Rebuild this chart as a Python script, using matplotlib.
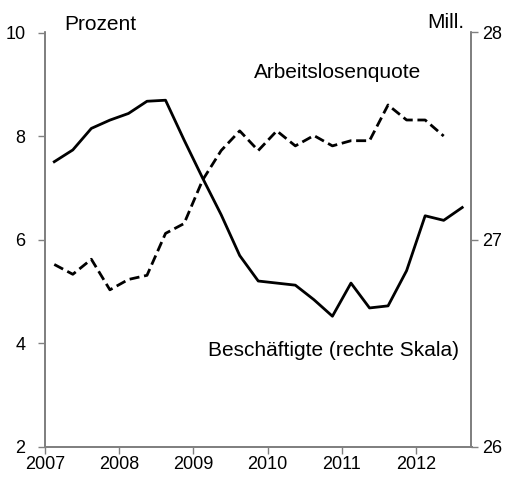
import numpy as np
import matplotlib
matplotlib.use("Agg")
import matplotlib.pyplot as plt

plt.rcParams['font.family'] = ['Liberation Sans', 'DejaVu Sans']

# Quartalswerte (Quartalsmitte), 2007Q1 ...
quartale_alq = 2007.125 + np.arange(22) / 4
quartale_besch = 2007.125 + np.arange(23) / 4

arbeitslosenquote = [5.52, 5.33, 5.62, 5.03, 5.23, 5.31, 6.12, 6.31, 7.15, 7.72,
                     8.10, 7.72, 8.10, 7.81, 8.01, 7.81, 7.91, 7.91, 8.60, 8.31,
                     8.31, 8.00]
beschaeftigte = [27.376, 27.433, 27.537, 27.577, 27.609, 27.668, 27.673, 27.481,
                 27.297, 27.120, 26.923, 26.800, 26.790, 26.780, 26.710, 26.630,
                 26.790, 26.670, 26.680, 26.850, 27.115, 27.093, 27.155]

jahre = [2007, 2008, 2009, 2010, 2011, 2012]

W, H = 510, 478
fig = plt.figure(figsize=(W / 100, H / 100), dpi=100)
ax = fig.add_axes([45 / W, 1 - 446.7 / H, (471.5 - 45) / W, (446.7 - 32.5) / H])
ax2 = ax.twinx()

grau = '#808080'

ax.plot(quartale_alq, arbeitslosenquote, color='black', lw=2.0,
        dashes=(3.6, 1.7))
ax2.plot(quartale_besch, beschaeftigte, color='black', lw=2.0)

ax.set_xlim(2007, 2012.75)
ax.set_ylim(2, 10)
ax2.set_ylim(26, 28)
ax.set_yticks([2, 4, 6, 8, 10])
ax2.set_yticks([26, 27, 28])
ax.set_xticks(jahre)
ax.set_xticklabels([str(j) for j in jahre])

for a in (ax, ax2):
    a.spines['top'].set_visible(False)
    for s in ('left', 'right', 'bottom'):
        a.spines[s].set_color(grau)
        a.spines[s].set_linewidth(1.3)
    a.tick_params(colors=grau, labelcolor='black', width=1.0, length=5,
                  labelsize=13)
ax.tick_params(axis='y', pad=9)
ax2.tick_params(axis='y', pad=3)
ax.tick_params(axis='x', pad=2)

fig.text(64 / W, 1 - 25 / H, 'Prozent', fontsize=15, va='center', ha='left')
fig.text(464 / W, 1 - 22 / H, 'Mill.', fontsize=15, va='center', ha='right')
fig.text(254 / W, 1 - 73 / H, 'Arbeitslosenquote', fontsize=15,
         va='center', ha='left')
fig.text(208 / W, 1 - 350 / H, 'Beschäftigte (rechte Skala)', fontsize=15,
         va='center', ha='left')

fig.savefig('out.png', dpi=100)
